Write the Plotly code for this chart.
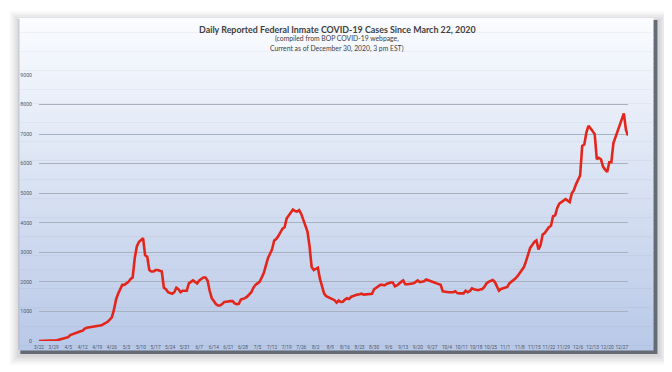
import datetime as dt
import plotly.graph_objects as go

# ---- data ----
start_date = "2020-03-22"
day_offsets = list(range(284))
cases = [
    0, 0, 5, 5, 10, 10, 15, 15, 20, 30,
    50, 70, 90, 110, 130, 200, 230, 250, 280, 310,
    330, 350, 420, 450, 460, 460, 470, 480, 490, 510,
    530, 570, 610, 650, 720, 800, 1050, 1400, 1600, 1750,
    1900, 1900, 1950, 2000, 2100, 2150, 2800, 3200, 3350, 3400,
    3480, 2900, 2850, 2400, 2350, 2350, 2400, 2400, 2380, 2350,
    1800, 1750, 1650, 1620, 1600, 1650, 1800, 1750, 1650, 1700,
    1700, 1700, 1950, 2000, 2050, 2000, 1950, 2050, 2100, 2150,
    2150, 2050, 1700, 1450, 1350, 1250, 1200, 1200, 1250, 1320,
    1330, 1350, 1350, 1350, 1270, 1250, 1260, 1400, 1420, 1450,
    1500, 1580, 1650, 1800, 1900, 1950, 2000, 2150, 2300, 2550,
    2800, 2950, 3100, 3400, 3450, 3550, 3700, 3800, 3850, 4150,
    4250, 4350, 4450, 4400, 4380, 4430, 4300, 4100, 3900, 3700,
    3200, 2500, 2400, 2450, 2480, 2100, 1800, 1600, 1520, 1480,
    1450, 1420, 1380, 1300, 1370, 1320, 1330, 1400, 1450, 1420,
    1500, 1520, 1550, 1570, 1580, 1600, 1570, 1580, 1570, 1580,
    1600, 1750, 1800, 1870, 1900, 1900, 1880, 1930, 1960, 1980,
    1980, 1850, 1880, 1950, 2000, 2050, 1920, 1920, 1930, 1940,
    1950, 2000, 2050, 1990, 2000, 2020, 2080, 2060, 2020, 2000,
    1980, 1950, 1930, 1900, 1680, 1660, 1660, 1650, 1640, 1650,
    1680, 1620, 1610, 1600, 1610, 1700, 1650, 1690, 1780, 1750,
    1730, 1720, 1740, 1760, 1830, 1950, 2000, 2020, 2060, 2000,
    1850, 1700, 1760, 1780, 1800, 1830, 1950, 2000, 2050, 2120,
    2200, 2300, 2400, 2500, 2700, 2900, 3150, 3250, 3350, 3400,
    3100, 3250, 3600, 3650, 3750, 3850, 3900, 4220, 4250, 4500,
    4650, 4700, 4750, 4800, 4750, 4700, 5000, 5100, 5300, 5450,
    5600, 6600, 6650, 7050, 7280, 7200, 7100, 7000, 6150, 6200,
    6150, 5900, 5800, 5720, 6050, 6050, 6700, 6900, 7150, 7350,
    7500, 7700, 7150, 6950,
]
y_ticks = [0, 1000, 2000, 3000, 4000, 5000, 6000, 7000, 8000, 9000]

title_main = "Daily Reported Federal Inmate COVID-19 Cases Since March 22, 2020"
title_sub1 = "(compiled from BOP COVID-19 webpage,"
title_sub2 = "Current as of December 30, 2020, 3 pm EST)"

d0 = dt.date.fromisoformat(start_date)
dates = [(d0 + dt.timedelta(days=o)).isoformat() for o in day_offsets]

# ---- layout geometry ----
# page pixels; the html body adds an 8px margin, so the figure starts at (8, 8)
OFF = 8
W, H = 672 - OFF, 372 - OFF
PL, PR, PT, PB = 28, 628, 75, 341          # plot area in page pixels
ML, MR, MT, MB = PL - OFF, 672 - PR, PT - OFF, 372 - PB
PW, PH = PR - PL, PB - PT


def px_x(px):
    return (px - PL) / PW


def px_y(py):
    return (PB - py) / PH


shapes = []
# soft drop shadow
for i, a in enumerate([0.03, 0.035, 0.04, 0.05, 0.06]):
    g = 9 - 2 * i
    shapes.append(dict(type="rect", xref="paper", yref="paper", layer="below",
                       x0=px_x(7 - g), x1=px_x(660 + g), y0=px_y(356 + g), y1=px_y(20 - g),
                       line=dict(width=0), fillcolor=f"rgba(60,60,70,{a})"))
# 3D edges (right and bottom)
shapes.append(dict(type="rect", xref="paper", yref="paper", layer="below",
                   x0=px_x(9), x1=px_x(658), y0=px_y(354), y1=px_y(20),
                   line=dict(width=0), fillcolor="#656b75"))
# gradient card face
top_col = (250, 252, 255)
bot_col = (184, 200, 231)
N = 70
y_top, y_bot = 18, 350
for k in range(N):
    t = (k + 0.5) / N
    c = tuple(round(top_col[j] + (bot_col[j] - top_col[j]) * t) for j in range(3))
    ya = y_top + (y_bot - y_top) * k / N
    yb = y_top + (y_bot - y_top) * (k + 1) / N
    shapes.append(dict(type="rect", xref="paper", yref="paper", layer="below",
                       x0=px_x(7), x1=px_x(654), y0=px_y(yb + 0.5), y1=px_y(ya),
                       line=dict(width=0), fillcolor="rgb(%d,%d,%d)" % c))
# thin left edge
shapes.append(dict(type="line", xref="paper", yref="paper", layer="below",
                   x0=px_x(7.5), x1=px_x(7.5), y0=px_y(350), y1=px_y(19),
                   line=dict(width=1, color="#b8bcc4")))

x_tick_font = dict(family="Liberation Sans Narrow, Roboto, sans-serif", size=4.8, color="#4f5868")
y_tick_font = dict(family="Liberation Sans Narrow, Roboto, sans-serif", size=5.2, color="#4f5868")

fig = go.Figure()
fig.add_trace(go.Scatter(
    x=dates, y=cases, mode="lines",
    line=dict(color="#e3261c", width=2.6),
    hoverinfo="x+y", showlegend=False,
))

fig.update_layout(
    width=W, height=H,
    margin=dict(l=ML, r=MR, t=MT, b=MB, pad=0),
    paper_bgcolor="white",
    plot_bgcolor="rgba(0,0,0,0)",
    shapes=shapes,
    font=dict(family="Lato, Liberation Sans, sans-serif", color="#404040"),
    annotations=[
        dict(text="<b>" + title_main + "</b>", xref="paper", yref="paper",
             x=px_x(332), y=px_y(29), xanchor="center", yanchor="middle",
             showarrow=False, font=dict(size=8.9, color="#404040")),
        dict(text=title_sub1, xref="paper", yref="paper",
             x=px_x(332), y=px_y(39), xanchor="center", yanchor="middle",
             showarrow=False, font=dict(size=6.8, color="#404040")),
        dict(text=title_sub2, xref="paper", yref="paper",
             x=px_x(332), y=px_y(48), xanchor="center", yanchor="middle",
             showarrow=False, font=dict(size=6.8, color="#404040")),
    ],
    xaxis=dict(
        type="date",
        range=[dates[0], dates[-1]],
        tick0=start_date, dtick=7 * 86400000,
        tickformat="%-m/%-d", tickangle=0,
        showgrid=False, zeroline=False, showline=False,
        ticks="", tickfont=x_tick_font,
        ticklabelstandoff=2,
    ),
    yaxis=dict(
        range=[0, 9000],
        tickvals=y_ticks,
        showgrid=True, gridcolor="#a8b1bf", gridwidth=1,
        zeroline=False, showline=False, ticks="",
        tickfont=y_tick_font,
        ticklabelstandoff=6,
    ),
)

fig.write_html("out.html")
